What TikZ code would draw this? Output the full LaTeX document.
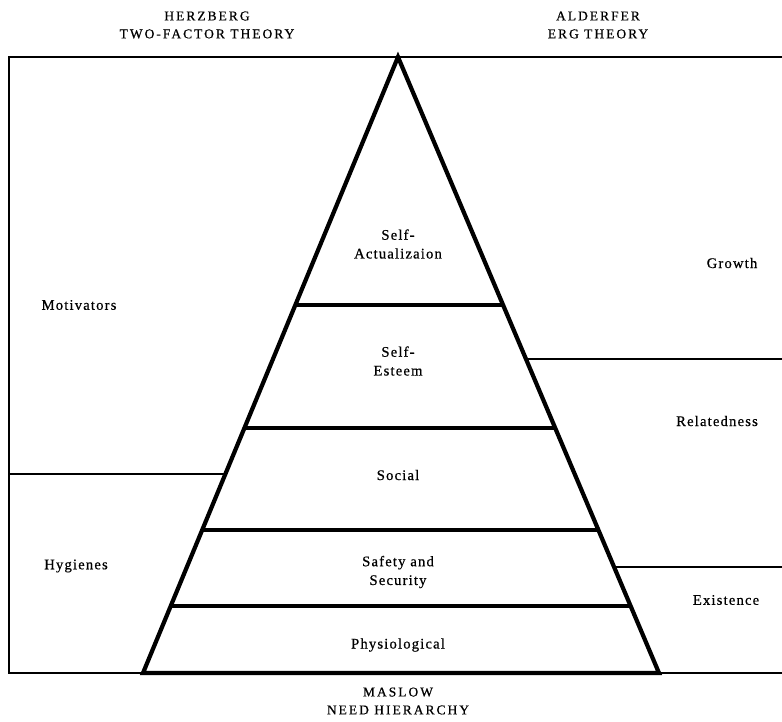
\documentclass[tikz,border=0pt]{standalone}
\usepackage{fontspec}
\setmainfont{Liberation Serif}
\newfontfamily\labelfont[LetterSpace=8,FakeBold=0.6]{Liberation Serif}
\newfontfamily\headfont[LetterSpace=15,FakeBold=0.6]{Liberation Serif}
\usetikzlibrary{calc}

\begin{document}
\begin{tikzpicture}[x=0.03cm,y=-0.03cm,
  frameline/.style={line width=1.4pt},
  pyramidline/.style={line width=3.6pt, line join=miter},
  levelline/.style={line width=3pt},
  lbl/.style={font=\labelfont\fontsize{12.5}{16}\selectfont, align=center, inner sep=0pt},
  heading/.style={font=\headfont\fontsize{11.5}{15.3}\selectfont, align=center, inner sep=0pt}]
\useasboundingbox (0,0) rectangle (782,721);

% Frame
\coordinate (tl) at (9,57);
\coordinate (tr) at (782,57);
\coordinate (bl) at (9,673);
\coordinate (br) at (782,673);
\draw[frameline] (tr) -- (tl) -- (bl) -- (br);

% Pyramid
\coordinate (apex) at (398,57);
\coordinate (pl) at (143,673);
\coordinate (pr) at (659,673);
\draw[pyramidline] (pl) -- (apex) -- (pr) -- cycle;

% Maslow levels
\foreach \t [count=\i] in {0.4026,0.6023,0.7679,0.8912}
  \draw[levelline] ($(apex)!\t!(pl)$) coordinate (l\i) -- ($(apex)!\t!(pr)$) coordinate (r\i);

% Herzberg split
\coordinate (hzl) at (9,474);
\coordinate (hzr) at ($(apex)!0.677!(pl)$);
\draw[frameline] (hzl) -- (hzr);

% Alderfer splits
\coordinate (gl) at ($(apex)!0.4903!(pr)$);
\coordinate (gr) at (782,359);
\coordinate (el) at ($(apex)!0.828!(pr)$);
\coordinate (er) at (782,567);
\draw[frameline] (gl) -- (gr);
\draw[frameline] (el) -- (er);

% Headings
\node[heading] (herz) at (207,25) {HERZBERG\\TWO-FACTOR THEORY};
\node[heading] (alder) at (598,25) {ALDERFER\\ERG THEORY};
\node[heading] (maslow) at (398,701) {MASLOW\\NEED HIERARCHY};

% Pyramid labels
\node[lbl] (selfact) at (398,244) {Self-\\Actualizaion};
\node[lbl] (esteem) at (398,361) {Self-\\Esteem};
\node[lbl] (social) at (398,475) {Social};
\node[lbl] (safety) at (398,572) {Safety and\\Security};
\node[lbl] (physio) at (398,645) {Physiological};

% Side labels
\node[lbl] (motiv) at (79,305) {Motivators};
\node[lbl] (hyg) at (76,566) {Hygienes};
\node[lbl] (growth) at (732,263) {Growth};
\node[lbl] (relat) at (717,421) {Relatedness};
\node[lbl] (exist) at (726,600) {Existence};
\end{tikzpicture}
\end{document}
